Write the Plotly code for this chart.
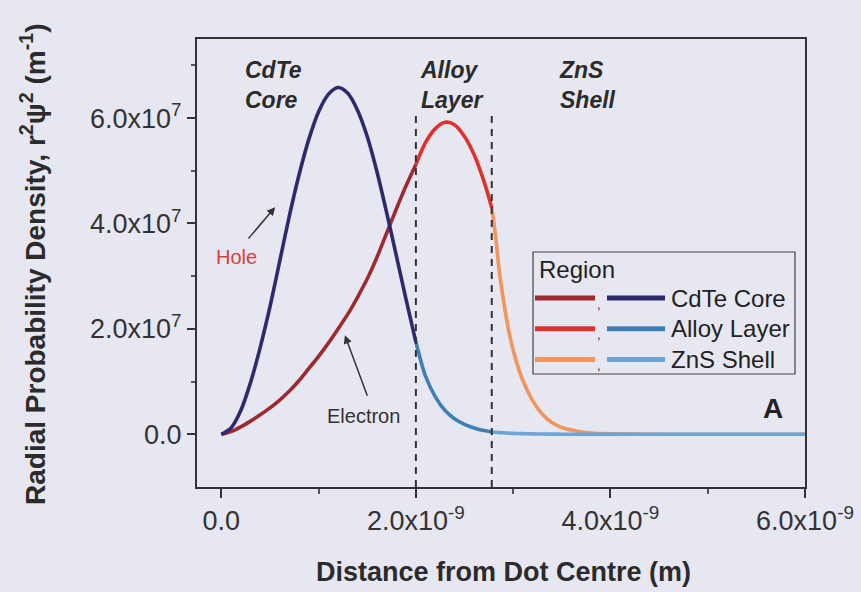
import plotly.graph_objects as go

# Distance from dot centre (units of 1e-9 m), split by region
core_x = [0.0, 0.1, 0.2, 0.3, 0.4, 0.5, 0.6, 0.7, 0.8, 0.9, 1.0,
          1.1, 1.2, 1.3, 1.4, 1.5, 1.6, 1.7, 1.8, 1.9, 2.0]
alloy_x = [2.0, 2.05, 2.1, 2.2, 2.3, 2.4, 2.5, 2.6, 2.7, 2.78]
shell_x = [2.78, 2.82, 2.86, 2.9, 2.95, 3.0, 3.05, 3.1, 3.2, 3.3, 3.4,
           3.5, 3.6, 3.7, 3.8, 4.0, 4.5, 5.0, 5.5, 6.0]

# Radial probability density (units of 1e7 m^-1)
hole_core = [0, 0.12, 0.45, 0.98, 1.65, 2.42, 3.28, 4.15, 4.93, 5.6, 6.12,
             6.45, 6.58, 6.47, 6.15, 5.65, 4.98, 4.2, 3.38, 2.55, 1.75]
hole_alloy = [1.75, 1.4, 1.1, 0.71, 0.45, 0.29, 0.19, 0.12, 0.07, 0.045]
hole_shell = [0.045, 0.038, 0.032, 0.028, 0.023, 0.018, 0.015, 0.012, 0.008, 0.005,
              0.003, 0.002, 0.001, 0, 0, 0, 0, 0, 0, 0]

elec_core = [0, 0.05, 0.14, 0.25, 0.37, 0.5, 0.65, 0.82, 1.02, 1.25, 1.48,
             1.73, 2.0, 2.28, 2.6, 2.95, 3.36, 3.82, 4.28, 4.72, 5.12]
elec_alloy = [5.12, 5.34, 5.54, 5.8, 5.92, 5.87, 5.65, 5.3, 4.8, 4.3]
elec_shell = [4.3, 3.75, 3.05, 2.55, 2.0, 1.6, 1.28, 1.02, 0.64, 0.38, 0.22,
              0.13, 0.08, 0.045, 0.025, 0.01, 0, 0, 0, 0]

region_bounds = [2.0, 2.78]
region_names = ["CdTe Core", "Alloy Layer", "ZnS Shell"]
elec_colors = ["#9e2a31", "#e0322d", "#f0955c"]
hole_colors = ["#2e2b6c", "#3f80b4", "#6fa5d6"]

x_ticks = [0, 2e-9, 4e-9, 6e-9]
x_ticktext = ["0.0", "2.0x10<sup>-9</sup>", "4.0x10<sup>-9</sup>", "6.0x10<sup>-9</sup>"]
y_ticks = [0, 2e7, 4e7, 6e7]
y_ticktext = ["0.0", "2.0x10<sup>7</sup>", "4.0x10<sup>7</sup>", "6.0x10<sup>7</sup>"]

BG = "#e7e7f1"
INK = "#2b2b2b"
FONT = "Liberation Sans, Arial, sans-serif"

xs = [core_x, alloy_x, shell_x]
fig = go.Figure()
for xv, yv, c in zip(xs, [elec_core, elec_alloy, elec_shell], elec_colors):
    fig.add_trace(go.Scatter(x=[v * 1e-9 for v in xv], y=[v * 1e7 for v in yv],
                             mode="lines", line=dict(color=c, width=3.6, shape="spline", smoothing=0.8),
                             hoverinfo="skip"))
for xv, yv, c in zip(xs, [hole_core, hole_alloy, hole_shell], hole_colors):
    fig.add_trace(go.Scatter(x=[v * 1e-9 for v in xv], y=[v * 1e7 for v in yv],
                             mode="lines", line=dict(color=c, width=3.6, shape="spline", smoothing=0.8),
                             hoverinfo="skip"))

# region boundaries
for b in region_bounds:
    fig.add_shape(type="line", x0=b * 1e-9, x1=b * 1e-9, y0=-1e7, y1=6.1e7,
                  xref="x", yref="y", line=dict(color="#333", width=2, dash="7px,6px"))

# plot area in pixels -> paper coords
L, R, T, B = 197, 805, 39, 487


def px(x):
    return (x - L) / (R - L)


def py(y):
    return (B - y) / (B - T)


def txt(x, y, text, size, color="#222", **kw):
    d = dict(x=px(x), y=py(y), xref="paper", yref="paper", text=text, showarrow=False,
             xanchor="center", yanchor="middle", font=dict(size=size, color=color, family=FONT))
    d.update(kw)
    return d


ann = []
# region labels
for name, x0 in zip(["CdTe<br>Core", "Alloy<br>Layer", "ZnS<br>Shell"], [243, 418, 557]):
    ann.append(txt(x0, 85, "<b><i>" + name + "</i></b>", 23, INK, xanchor="left", align="left"))
ann.append(txt(236, 257, "Hole", 20, "#d84040"))
ann.append(txt(363, 416, "Electron", 20, "#333"))
ann.append(dict(x=0.553e-9, y=4.31e7, xref="x", yref="y", ax=-28, ay=33, text="", showarrow=True,
                arrowhead=2, arrowsize=1.1, arrowwidth=1.5, arrowcolor="#333"))
ann.append(dict(x=1.27e-9, y=1.88e7, xref="x", yref="y", ax=23, ay=62, text="", showarrow=True,
                arrowhead=2, arrowsize=1.1, arrowwidth=1.5, arrowcolor="#333"))
ann.append(txt(773, 408, "<b>A</b>", 28))

# axis titles
ann.append(txt(33, 265, "<b>Radial Probability Density, r<sup>2</sup>\u03c8<sup>2</sup> (m<sup>-1</sup>)</b>",
               28, INK, textangle=-90))
ann.append(txt(503, 572, "<b>Distance from Dot Centre (m)</b>", 27, INK))

# legend built by hand (two swatches per region)
fig.add_shape(type="rect", xref="paper", yref="paper", x0=px(533), x1=px(795), y0=py(374), y1=py(252),
              line=dict(color="#444", width=1.2), fillcolor=BG)
ann.append(txt(537, 269, "Region", 24, xanchor="left"))
for i, name in enumerate(region_names):
    yv = 298 + i * 30.7
    fig.add_shape(type="line", xref="paper", yref="paper", x0=px(535), x1=px(595), y0=py(yv), y1=py(yv),
                  line=dict(color=elec_colors[i], width=5))
    fig.add_shape(type="line", xref="paper", yref="paper", x0=px(607), x1=px(665), y0=py(yv), y1=py(yv),
                  line=dict(color=hole_colors[i], width=5))
    ann.append(txt(599, yv + 6, ",", 13, "#333"))
    ann.append(txt(669, yv, name, 24, xanchor="left"))

fig.update_layout(
    width=861, height=592,
    margin=dict(l=L, r=861 - R, t=T, b=592 - B, autoexpand=False),
    paper_bgcolor=BG, plot_bgcolor=BG,
    showlegend=False,
    font=dict(family=FONT, color=INK),
    annotations=ann,
    xaxis=dict(range=[-0.25e-9, 6.0e-9], tickvals=x_ticks, ticktext=x_ticktext,
               ticks="outside", ticklen=9, tickwidth=2, tickcolor="#333", automargin=False,
               showline=True, linecolor="#333", linewidth=2, mirror=True,
               showgrid=False, zeroline=False, tickfont=dict(size=27, color="#333"),
               minor=dict(tickvals=[1e-9, 3e-9, 5e-9], ticks="outside", ticklen=5,
                          tickwidth=1.5, tickcolor="#555")),
    yaxis=dict(range=[-1.0e7, 7.5e7], tickvals=y_ticks, ticktext=y_ticktext,
               ticks="outside", ticklen=8, tickwidth=2, tickcolor="#333", automargin=False,
               showline=True, linecolor="#333", linewidth=2, mirror=True,
               showgrid=False, zeroline=False, tickfont=dict(size=27, color="#333"),
               minor=dict(tickvals=[1e7, 3e7, 5e7, 7e7], ticks="outside", ticklen=4,
                          tickwidth=1.5, tickcolor="#555")),
)

fig.write_html("out.html", config={"displayModeBar": False},
               post_script="document.body.style.margin='0';")
